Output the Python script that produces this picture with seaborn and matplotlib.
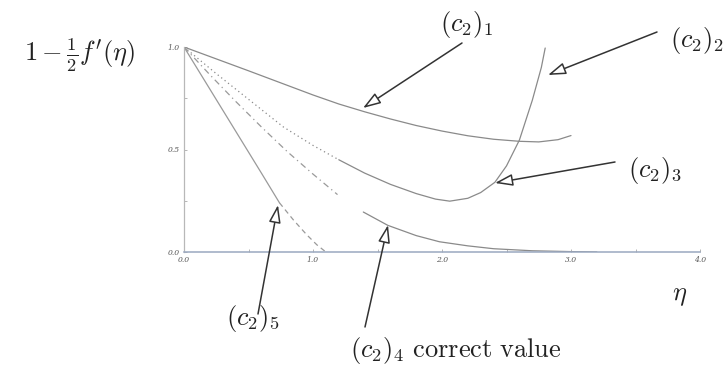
import matplotlib
matplotlib.use("Agg")
import matplotlib.pyplot as plt
import seaborn as sns
import pandas as pd

# Shooting-method profiles 1 - f'(eta)/2 for successive guesses of c2
eta_c1 = [0.0, 0.25, 0.5, 0.75, 1.0, 1.2, 1.4, 1.6, 1.8, 2.0, 2.2, 2.4, 2.6, 2.75, 2.9, 3.0]
val_c1 = [1.0, 0.942, 0.884, 0.825, 0.766, 0.722, 0.684, 0.649, 0.617, 0.59, 0.567, 0.55, 0.54, 0.537, 0.548, 0.568]

eta_c23 = [0.0, 0.25, 0.5, 0.77, 1.0, 1.2, 1.4, 1.6, 1.8, 1.95, 2.06, 2.2, 2.3, 2.41, 2.5, 2.6, 2.7, 2.77, 2.8]
val_c23 = [1.0, 0.87, 0.745, 0.61, 0.52, 0.45, 0.385, 0.33, 0.285, 0.258, 0.248, 0.262, 0.29, 0.34, 0.42, 0.546, 0.74, 0.9, 0.995]

eta_c4 = [0.0, 0.2, 0.4, 0.6, 0.8, 1.0, 1.19, 1.39, 1.58, 1.8, 1.98, 2.2, 2.4, 2.7, 3.0, 3.2]
val_c4 = [1.0, 0.865, 0.735, 0.61, 0.49, 0.38, 0.28, 0.195, 0.13, 0.08, 0.05, 0.03, 0.016, 0.006, 0.002, 0.0]

eta_c5 = [0.0, 0.2, 0.4, 0.6, 0.74, 0.85, 0.95, 1.03, 1.1]
val_c5 = [1.0, 0.795, 0.59, 0.385, 0.24, 0.155, 0.085, 0.035, 0.0]

x_ticks = [0.0, 1.0, 2.0, 3.0, 4.0]
y_ticks = [0.0, 0.5, 1.0]

sns.set_theme(style="white")
plt.rcParams["mathtext.fontset"] = "cm"
plt.rcParams["font.family"] = ["DejaVu Serif"]

W, H = 728, 369
fig = plt.figure(figsize=(W / 100, H / 100), dpi=100)
ax = fig.add_axes([184 / W, 1 - 252 / H, 516 / W, 205 / H])

curve_col = "#8a8a8a"


def segment(eta, val, lo, hi):
    d = pd.DataFrame({"eta": eta, "val": val})
    return d[(d.eta >= lo) & (d.eta <= hi)]


def draw(eta, val, lo, hi, style, lw=0.9, color=curve_col):
    d = segment(eta, val, lo, hi)
    sns.lineplot(data=d, x="eta", y="val", ax=ax, color=color, lw=lw,
                 linestyle=style, sort=False, estimator=None)


# (c2)1 : solid
draw(eta_c1, val_c1, 0, 9, "-")
# (c2)2 / (c2)3 : dotted start, solid afterwards
draw(eta_c23, val_c23, 0, 1.2, (0, (1, 2.5)))
draw(eta_c23, val_c23, 1.2, 9, "-")
# (c2)4 : dash-dot start, solid tail
draw(eta_c4, val_c4, 0, 1.19, (0, (5, 3, 1, 3)), color="#9a9a9a")
draw(eta_c4, val_c4, 1.39, 9, "-")
# (c2)5 : solid start, dashed end
draw(eta_c5, val_c5, 0, 0.74, "-", color="#9a9a9a")
draw(eta_c5, val_c5, 0.74, 9, (0, (4, 3)), color="#9a9a9a")

ax.set_xlim(0, 4)
ax.set_ylim(0, 1)
ax.set_xlabel("")
ax.set_ylabel("")
for s in ["top", "right"]:
    ax.spines[s].set_visible(False)
ax.spines["left"].set_color("#b8b8b8")
ax.spines["bottom"].set_color("#9aa8c0")
ax.spines["left"].set_linewidth(0.9)
ax.spines["bottom"].set_linewidth(1.1)

ax.set_xticks(x_ticks)
ax.set_yticks(y_ticks)
ax.set_xticks([0.5, 1.5, 2.5, 3.5], minor=True)
ax.set_yticks([0.25, 0.75], minor=True)
ax.set_xticklabels([f"{v:.1f}" for v in x_ticks], fontsize=5.5, style="italic", color="#555")
ax.set_yticklabels([f"{v:.1f}" for v in y_ticks], fontsize=5.5, style="italic", color="#555")
ax.tick_params(which="both", direction="in", length=2.5, width=0.6, color="#aaa",
               bottom=True, left=True, pad=3)

arrow_kw = dict(arrowstyle="-|>,head_length=0.9,head_width=0.3", color="#333333",
                lw=1.1, shrinkA=0, shrinkB=0, fc="white")


def px(x, y):
    return ((x - 184) / 129, (252 - y) / 205)


arrows = [
    ((462, 43), (363, 108)),
    ((657, 32), (548, 75)),
    ((615, 162), (495, 183)),
    ((258, 314), (278, 205)),
    ((365, 327), (388, 225)),
]
for start, tip in arrows:
    ax.annotate("", xy=px(*tip), xytext=px(*start), xycoords="data",
                textcoords="data", arrowprops=arrow_kw, annotation_clip=False)

tfs = 19
labels = [
    (467, 24, r"$(c_2)_1$"),
    (697, 40, r"$(c_2)_2$"),
    (655, 170, r"$(c_2)_3$"),
    (253, 318, r"$(c_2)_5$"),
    (456, 350, r"$(c_2)_4\ \mathrm{correct\ value}$"),
    (680, 296, r"$\eta$"),
    (80, 55, r"$1-\frac{1}{2}f^{\prime}(\eta)$"),
]
for x, y, t in labels:
    fig.text(x / W, 1 - y / H, t, fontsize=tfs, ha="center", va="center", color="#222")

fig.savefig("out.png", dpi=100, facecolor="white")
